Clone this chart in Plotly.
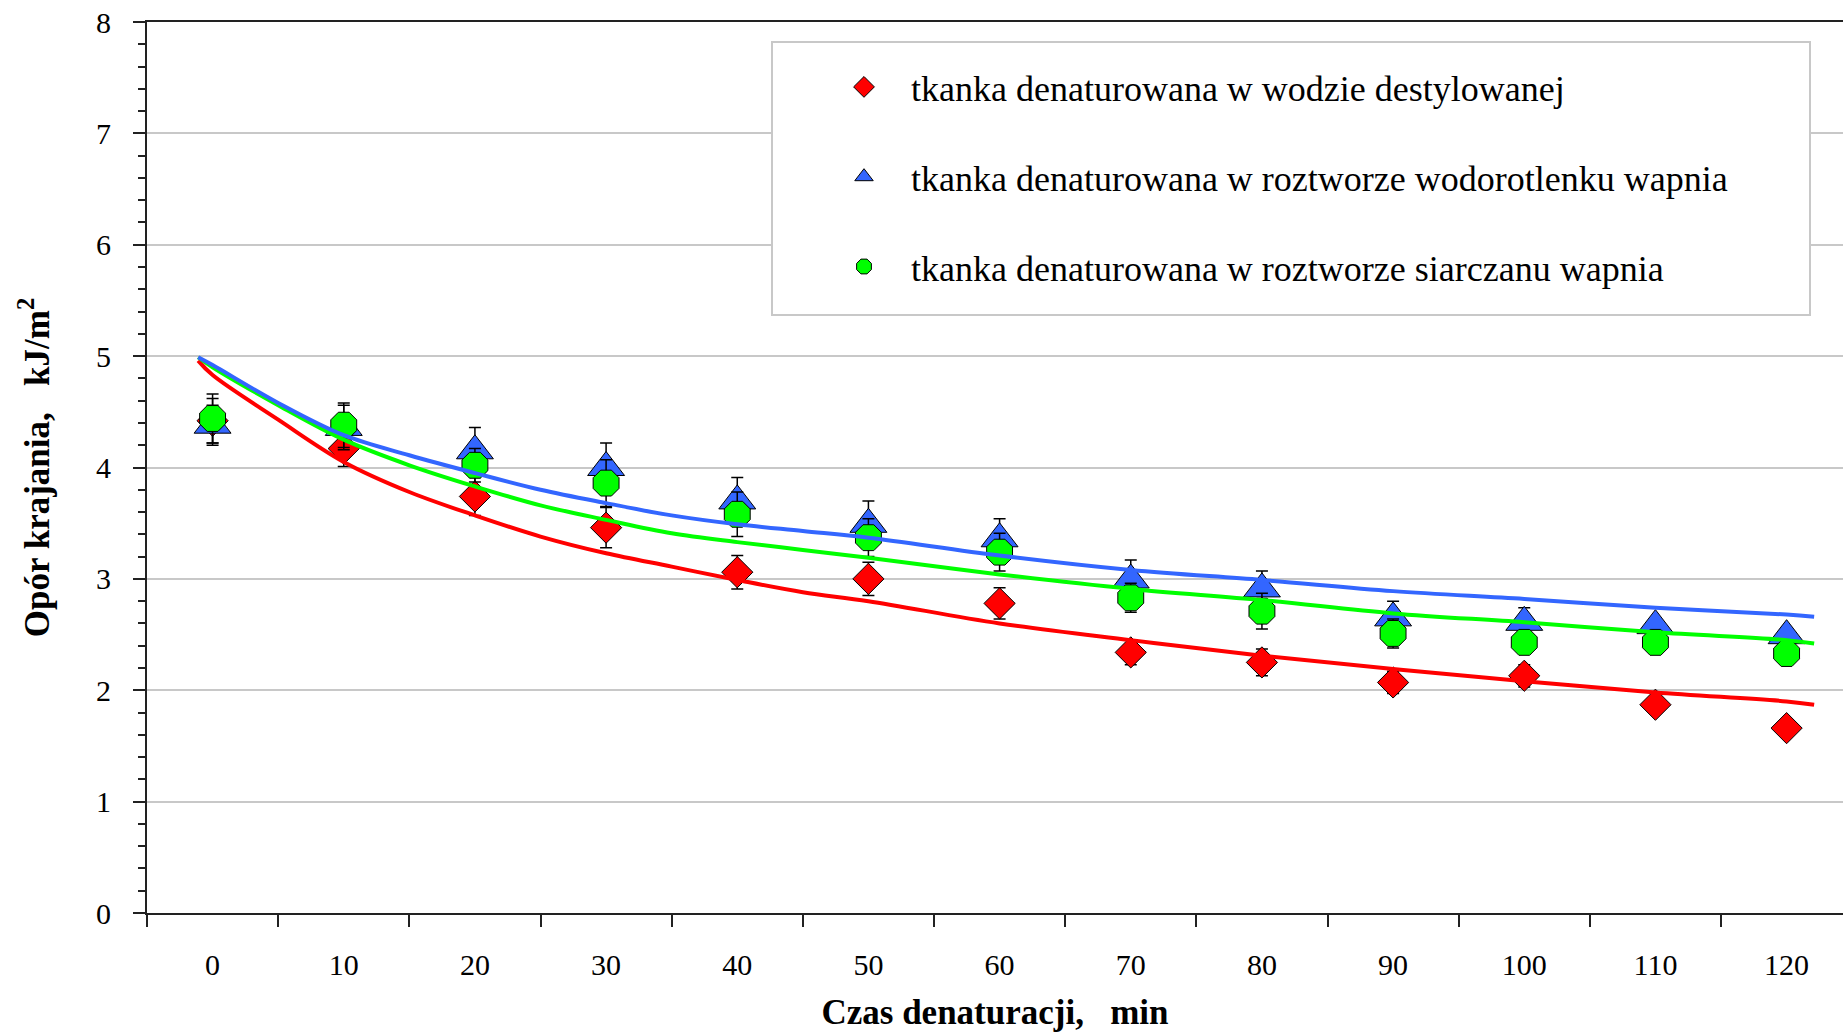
import plotly.graph_objects as go

# ---- data ----
time_min = [0, 10, 20, 30, 40, 50, 60, 70, 80, 90, 100, 110, 120]
tick_labels = ["0", "10", "20", "30", "40", "50", "60", "70", "80", "90", "100", "110", "120"]

red_vals = [4.42, 4.17, 3.74, 3.46, 3.06, 3.00, 2.78, 2.34, 2.25, 2.07, 2.13, 1.87, 1.66]
red_err = [0.20, 0.16, 0.17, 0.18, 0.15, 0.15, 0.14, 0.11, 0.12, 0.10, 0.10, 0.05, 0.04]

blue_vals = [4.38, 4.36, 4.15, 4.00, 3.70, 3.49, 3.36, 2.99, 2.91, 2.65, 2.61, 2.58, 2.49]
blue_err = [0.18, 0.20, 0.21, 0.22, 0.21, 0.21, 0.18, 0.18, 0.16, 0.15, 0.13, 0.05, 0.04]

green_vals = [4.44, 4.38, 4.02, 3.86, 3.58, 3.37, 3.24, 2.83, 2.71, 2.51, 2.43, 2.43, 2.33]
green_err = [0.22, 0.20, 0.15, 0.21, 0.20, 0.17, 0.17, 0.13, 0.16, 0.13, 0.08, 0.05, 0.04]

fit_x = [-1.1, 0, 5, 10, 15, 20, 25, 30, 35, 40, 45, 50, 60, 70, 80, 90, 100, 110, 120, 122.1]
red_fit = [4.96, 4.83, 4.43, 4.05, 3.78, 3.57, 3.38, 3.23, 3.11, 2.99, 2.88, 2.80, 2.60, 2.45, 2.31, 2.19, 2.08, 1.98, 1.90, 1.87]
blue_fit = [4.99, 4.92, 4.58, 4.29, 4.11, 3.95, 3.80, 3.68, 3.57, 3.49, 3.43, 3.37, 3.21, 3.08, 2.99, 2.89, 2.82, 2.74, 2.68, 2.66]
green_fit = [4.99, 4.90, 4.56, 4.25, 4.02, 3.83, 3.66, 3.53, 3.41, 3.33, 3.26, 3.19, 3.04, 2.91, 2.81, 2.69, 2.61, 2.52, 2.45, 2.42]

names = [
    "tkanka denaturowana w wodzie destylowanej",
    "tkanka denaturowana w roztworze wodorotlenku wapnia",
    "tkanka denaturowana w roztworze siarczanu wapnia",
]

RED = "#FF0000"
BLUE = "#3366FF"
GREEN = "#00FF00"
FONT = "Liberation Serif, Times New Roman, serif"

fig = go.Figure()

def err(vals):
    return dict(type="data", array=vals, color="black", thickness=1.5, width=6, visible=True)

fig.add_trace(go.Scatter(x=time_min, y=red_vals, mode="markers", name=names[0], legendgroup="a",
                         error_y=err(red_err),
                         marker=dict(symbol="diamond", size=24, color=RED, line=dict(color="black", width=1))))
fig.add_trace(go.Scatter(x=time_min, y=blue_vals, mode="markers", name=names[1], legendgroup="b",
                         error_y=err(blue_err),
                         marker=dict(symbol="triangle-up", size=32, color=BLUE, line=dict(color="black", width=1))))
fig.add_trace(go.Scatter(x=time_min, y=green_vals, mode="markers", name=names[2], legendgroup="c",
                         error_y=err(green_err),
                         marker=dict(symbol="octagon", size=28, color=GREEN, line=dict(color="black", width=1))))

fig.add_trace(go.Scatter(x=fit_x, y=red_fit, mode="lines", line=dict(color=RED, width=4, shape="spline"),
                         showlegend=False, hoverinfo="skip"))
fig.add_trace(go.Scatter(x=fit_x, y=green_fit, mode="lines", line=dict(color=GREEN, width=4, shape="spline"),
                         showlegend=False, hoverinfo="skip"))
fig.add_trace(go.Scatter(x=fit_x, y=blue_fit, mode="lines", line=dict(color=BLUE, width=4, shape="spline"),
                         showlegend=False, hoverinfo="skip"))

W, H = 1843, 1032
L, R, T, B = 147, 0, 22, 119
pw = W - L - R
ph = H - T - B

def px(xp):  # page pixel -> paper x
    return (xp - L) / pw

def py(yp):  # page pixel -> paper y
    return (H - B - yp) / ph

boundaries = [-5 + 10 * i for i in range(13)]

fig.update_layout(
    width=W, height=H,
    margin=dict(l=L, r=R, t=T, b=B, pad=0, autoexpand=False),
    paper_bgcolor="white", plot_bgcolor="white",
    font=dict(family=FONT, color="black"),
    showlegend=True,
    legend=dict(
        x=px(817), y=py(57), xanchor="left", yanchor="top",
        bgcolor="rgba(0,0,0,0)", borderwidth=0,
        font=dict(family=FONT, size=36, color="black"),
        tracegroupgap=40, itemwidth=84, traceorder="grouped",
    ),
    xaxis=dict(
        range=[-5, 124.3], tickmode="array", tickvals=time_min, ticktext=tick_labels,
        ticks="", showgrid=False, zeroline=False, automargin=False,
        showline=True, linecolor="#222222", linewidth=2, mirror=True,
        tickfont=dict(family=FONT, size=30, color="black"),
        ticklabelstandoff=24,
        minor=dict(tickmode="array", tickvals=boundaries, ticks="outside", ticklen=12,
                   tickwidth=2, tickcolor="#222222", showgrid=False),
        title=dict(text="Czas denaturacji,\u00a0\u00a0\u00a0min",
                   font=dict(family=FONT, size=35, color="black", weight="bold"), standoff=20),
    ),
    yaxis=dict(
        range=[0, 8], tickmode="linear", tick0=0, dtick=1,
        ticks="outside", ticklen=12, tickwidth=2, tickcolor="#222222",
        showgrid=True, gridcolor="#C8C8C8", gridwidth=1.5, zeroline=False, automargin=False,
        showline=True, linecolor="#222222", linewidth=2,
        tickfont=dict(family=FONT, size=30, color="black"),
        ticklabelstandoff=16, ticklabeloverflow="allow",
        minor=dict(tickmode="linear", dtick=0.2, ticks="outside", ticklen=7,
                   tickwidth=2, tickcolor="#222222", showgrid=False),
        title=dict(text="Opór krajania,\u00a0\u00a0\u00a0kJ/m<sup>2</sup>",
                   font=dict(family=FONT, size=35, color="black", weight="bold"), standoff=36),
    ),
    shapes=[dict(type="rect", xref="paper", yref="paper",
                 x0=px(772), x1=px(1810), y0=py(315), y1=py(42),
                 fillcolor="white", line=dict(color="#C8C8C8", width=2), layer="above")],
)

# remove the default 8px page margin so the figure fills the window exactly
fig.write_html("out.html", config={"displayModeBar": False},
               post_script="document.body.style.margin='0px';")
